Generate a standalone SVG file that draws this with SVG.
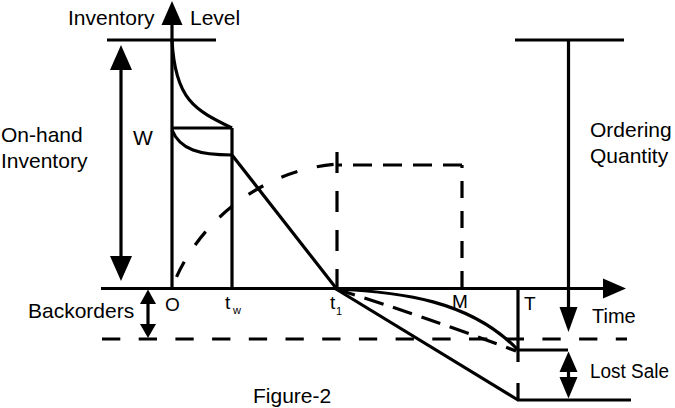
<svg xmlns="http://www.w3.org/2000/svg" width="675" height="408" viewBox="0 0 675 408">
  <style>
    .ln { fill: none; stroke: #000; stroke-width: 3.2; stroke-linecap: butt; stroke-linejoin: miter; }
    .ah { fill: #000; stroke: none; }
    .tx { font-family: "Liberation Sans", Arial, sans-serif; font-size: 21px; fill: #000; }
    .sm { font-family: "Liberation Sans", Arial, sans-serif; font-size: 19px; fill: #000; }
    .sub { font-family: "Liberation Sans", Arial, sans-serif; font-size: 11px; fill: #000; }
  </style>
  <rect width="675" height="408" fill="#fff"/>

  <g id="axes">
    <path class="ln" d="M172,24 V289"/>
    <polygon class="ah" points="172,1 161.5,25 182.5,25"/>
    <path class="ln" d="M101,288.5 H604"/>
    <polygon class="ah" points="626,288.5 603,278.5 603,298.5"/>
    <path class="ln" d="M107,40 H216"/>
  </g>

  <g id="on-hand-inventory">
    <path class="ln" d="M121,68 V258"/>
    <polygon class="ah" points="121,45 110,70 132,70"/>
    <polygon class="ah" points="121,281 110,256 132,256"/>
  </g>

  <g id="inventory-curves">
    <path class="ln" d="M172,40 C175,100 195,110 232,128"/>
    <path class="ln" d="M172,128 H232"/>
    <path class="ln" d="M232,128 V288"/>
    <path class="ln" d="M172,130 C180,150 200,155 232,155"/>
    <path class="ln" d="M232,155 L336,288"/>
  </g>

  <g id="dashed-cycle">
    <path class="ln" d="M172,288 C195,225 260,170 337,164" stroke-dasharray="17 20" stroke-dashoffset="25"/>
    <path class="ln" d="M337,152 V289" stroke-dasharray="21 18"/>
    <path class="ln" d="M462,165 H336" stroke-dasharray="19 11"/>
    <path class="ln" d="M462,288 V165" stroke-dasharray="17 13"/>
  </g>

  <g id="backorders">
    <path class="ln" d="M102,339 H627" stroke-dasharray="18.3 18.4"/>
    <path class="ln" d="M148,300 V328"/>
    <polygon class="ah" points="148,289.5 140,304 156,304"/>
    <polygon class="ah" points="148,338 140,324 156,324"/>
  </g>

  <g id="shortage-curves">
    <path class="ln" d="M336,289 C400,292 470,300 518,350"/>
    <path class="ln" d="M336,289 Q420,315 516,351" stroke-dasharray="20 10"/>
    <path class="ln" d="M336,289 L518,400"/>
    <path class="ln" d="M518,288 V362"/>
    <path class="ln" d="M518,383 V400"/>
    <path class="ln" d="M518,350 H568"/>
    <path class="ln" d="M517,400 H631"/>
  </g>

  <g id="ordering-quantity">
    <path class="ln" d="M515,40 H624"/>
    <path class="ln" d="M568.5,40 V309"/>
    <polygon class="ah" points="568.5,332 559.5,307 577.5,307"/>
  </g>

  <g id="lost-sale">
    <path class="ln" d="M568.5,368 V380"/>
    <polygon class="ah" points="568.5,351.5 559.5,372 577.5,372"/>
    <polygon class="ah" points="568.5,398.5 559.5,377 577.5,377"/>
  </g>

  <g id="labels">
    <text class="tx" x="68" y="25">Inventory</text>
    <text class="tx" x="190" y="25">Level</text>
    <text class="tx" x="1" y="142">On-hand</text>
    <text class="tx" x="1" y="168">Inventory</text>
    <text class="tx" x="133" y="145">W</text>
    <text class="tx" x="590" y="137">Ordering</text>
    <text class="tx" x="590" y="163">Quantity</text>
    <text class="tx" x="28" y="318">Backorders</text>
    <text class="sm" x="165" y="311">O</text>
    <text class="sm" x="225" y="309">t</text>
    <text class="sub" x="233" y="314">w</text>
    <text class="sm" x="330" y="309">t</text>
    <text class="sub" x="336" y="315">1</text>
    <text class="sm" x="452" y="308">M</text>
    <text class="sm" x="524" y="310">T</text>
    <text class="tx" x="592" y="323" style="font-size:20px">Time</text>
    <text class="tx" x="590" y="378" style="font-size:20px" textLength="79" lengthAdjust="spacingAndGlyphs">Lost Sale</text>
    <text class="tx" x="253" y="403">Figure-2</text>
  </g>
</svg>
